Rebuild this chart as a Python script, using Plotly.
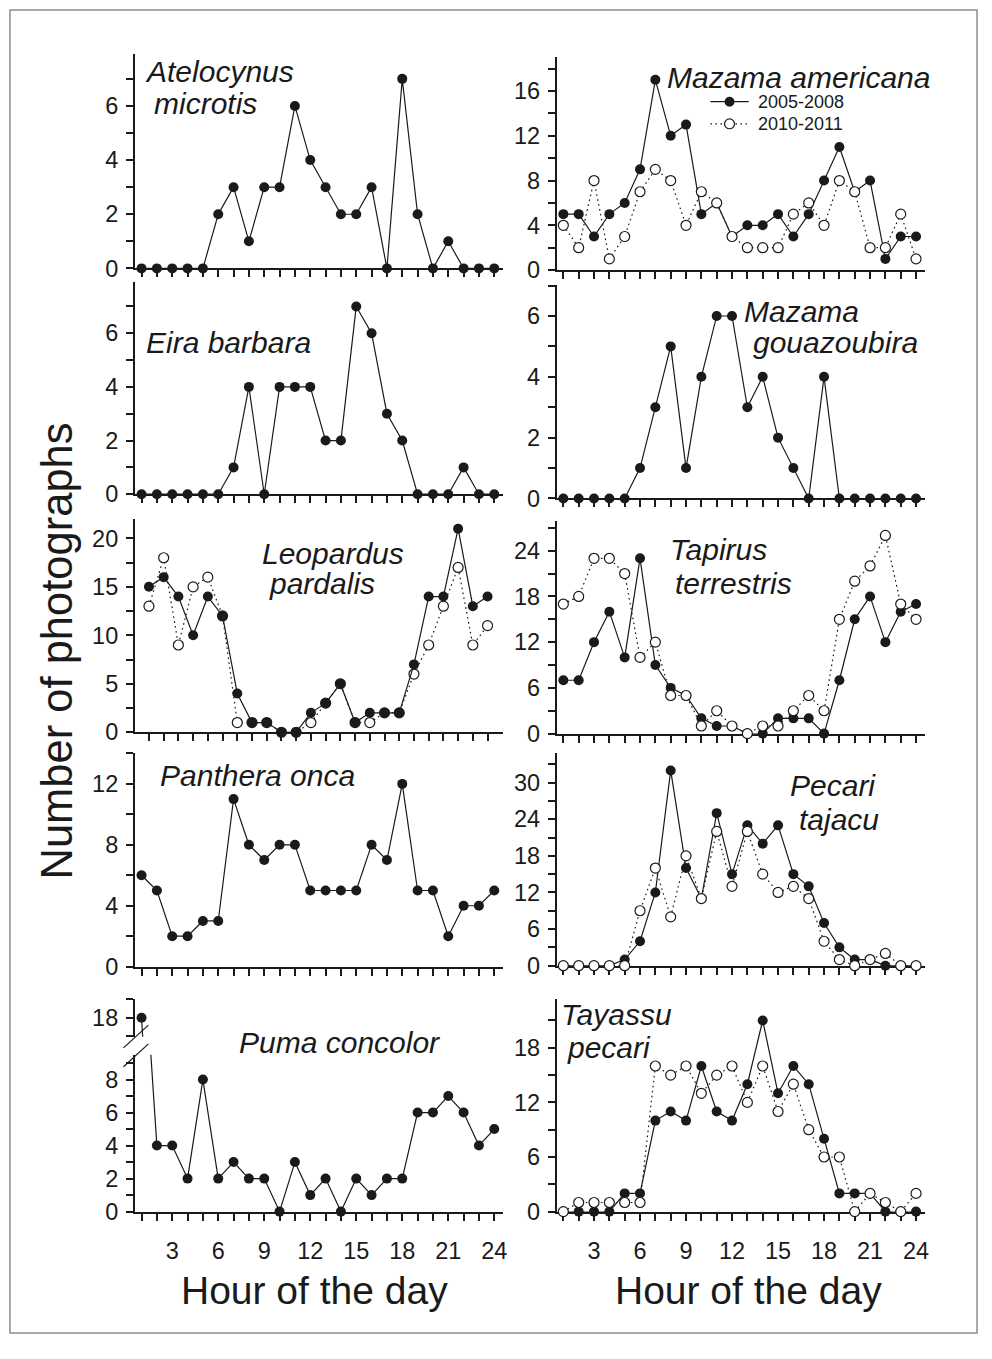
import plotly.graph_objects as go

W, H = 992, 1359


def px(x):
    return x / W


def py(y):
    return 1 - y / H


# ---------------- data (photographs per hour of the day) ----------------
hours = list(range(1, 25))
x_tick_vals = [3, 6, 9, 12, 15, 18, 21, 24]
x_tick_text = ["3", "6", "9", "12", "15", "18", "21", "24"]
series_names = ["2005-2008", "2010-2011"]

atelocynus = [0, 0, 0, 0, 0, 2, 3, 1, 3, 3, 6, 4, 3, 2, 2, 3, 0, 7, 2, 0, 1, 0, 0, 0]
eira = [0, 0, 0, 0, 0, 0, 1, 4, 0, 4, 4, 4, 2, 2, 7, 6, 3, 2, 0, 0, 0, 1, 0, 0]
leopardus_0508 = [15, 16, 14, 10, 14, 12, 4, 1, 1, 0, 0, 2, 3, 5, 1, 2, 2, 2, 7, 14, 14, 21, 13, 14]
leopardus_1011 = [13, 18, 9, 15, 16, 12, 1, 1, 1, 0, 0, 1, 3, 5, 1, 1, 2, 2, 6, 9, 13, 17, 9, 11]
panthera = [6, 5, 2, 2, 3, 3, 11, 8, 7, 8, 8, 5, 5, 5, 5, 8, 7, 12, 5, 5, 2, 4, 4, 5]
puma = [18, 4, 4, 2, 8, 2, 3, 2, 2, 0, 3, 1, 2, 0, 2, 1, 2, 2, 6, 6, 7, 6, 4, 5]
mazama_am_0508 = [5, 5, 3, 5, 6, 9, 17, 12, 13, 5, 6, 3, 4, 4, 5, 3, 5, 8, 11, 7, 8, 1, 3, 3]
mazama_am_1011 = [4, 2, 8, 1, 3, 7, 9, 8, 4, 7, 6, 3, 2, 2, 2, 5, 6, 4, 8, 7, 2, 2, 5, 1]
mazama_go = [0, 0, 0, 0, 0, 1, 3, 5, 1, 4, 6, 6, 3, 4, 2, 1, 0, 4, 0, 0, 0, 0, 0, 0]
tapirus_0508 = [7, 7, 12, 16, 10, 23, 9, 6, 5, 2, 1, 1, 0, 0, 2, 2, 2, 0, 7, 15, 18, 12, 16, 17]
tapirus_1011 = [17, 18, 23, 23, 21, 10, 12, 5, 5, 1, 3, 1, 0, 1, 1, 3, 5, 3, 15, 20, 22, 26, 17, 15]
pecari_0508 = [0, 0, 0, 0, 1, 4, 12, 32, 16, 11, 25, 15, 23, 20, 23, 15, 13, 7, 3, 1, 1, 0, 0, 0]
pecari_1011 = [0, 0, 0, 0, 0, 9, 16, 8, 18, 11, 22, 13, 22, 15, 12, 13, 11, 4, 1, 0, 1, 2, 0, 0]
tayassu_0508 = [0, 0, 0, 0, 2, 2, 10, 11, 10, 16, 11, 10, 14, 21, 13, 16, 14, 8, 2, 2, 2, 0, 0, 0]
tayassu_1011 = [0, 1, 1, 1, 1, 1, 16, 15, 16, 13, 15, 16, 12, 16, 11, 14, 9, 6, 6, 0, 2, 1, 0, 2]

# ---------------- styling ----------------
INK = "#1a1a1a"
FONT = "Liberation Sans, Arial, Helvetica, sans-serif"
TICK_FS = 23.5
NAME_FS = 30
MSIZE = 10
LW = 1.2
DOT = "1.6px,3.4px"

COLS = {0: (135.5, 505.5), 1: (559.0, 929.0)}
XR = [0.57, 24.6]

panels = [
    dict(k=1, col=0, top=55, bot=271, yr=[0, 7.9], dt=2, mn=1, a=atelocynus),
    dict(k=2, col=1, top=58, bot=272.7, yr=[0, 19], dt=4, mn=2, a=mazama_am_0508, b=mazama_am_1011),
    dict(k=3, col=0, top=285, bot=499, yr=[0, 7.9], dt=2, mn=1, a=eira),
    dict(k=4, col=1, top=287.7, bot=503.3, yr=[0, 7.02], dt=2, mn=1, a=mazama_go),
    dict(k=5, col=0, top=524, bot=739.3, yr=[0, 22], dt=5, mn=2.5, a=leopardus_0508, b=leopardus_1011,
         xr=[0.05, 25.08], open_on_top=False),
    dict(k=6, col=1, top=526, bot=740.7, yr=[0, 27.9], dt=6, mn=3, a=tapirus_0508, b=tapirus_1011),
    dict(k=7, col=0, top=760.7, bot=976, yr=[0, 14], dt=4, mn=2, a=panthera),
    dict(k=8, col=1, top=760, bot=975, yr=[0, 34.9], dt=6, mn=3, a=pecari_0508, b=pecari_1011),
    dict(k=9, col=0, top=1065, bot=1223.3, yr=[0, 9.5], dt=2, mn=1, a=puma, bottom=True, brk=True),
    dict(k=10, col=1, top=1008.3, bot=1223.3, yr=[0, 23.4], dt=6, mn=3, a=tayassu_0508, b=tayassu_1011,
         bottom=True),
]

fig = go.Figure()
layout = {}


def tick_common():
    return dict(
        showline=True, linewidth=2, linecolor=INK, mirror=False,
        ticks="outside", ticklen=7, tickwidth=2, tickcolor=INK,
        showgrid=False, zeroline=False, layer="below traces",
        tickfont=dict(family=FONT, size=TICK_FS, color=INK), fixedrange=True,
    )


def filled_trace(xs, ys, xa, ya, mode="lines+markers"):
    return go.Scatter(
        x=xs, y=ys, mode=mode, name=series_names[0], showlegend=False,
        line=dict(color=INK, width=LW),
        marker=dict(symbol="circle", size=MSIZE, color=INK, line=dict(width=0)),
        cliponaxis=False, xaxis=xa, yaxis=ya, hoverinfo="skip",
    )


def open_trace(xs, ys, xa, ya):
    return go.Scatter(
        x=xs, y=ys, mode="lines+markers", name=series_names[1], showlegend=False,
        line=dict(color=INK, width=LW, dash=DOT),
        marker=dict(symbol="circle", size=MSIZE, color="white", line=dict(color=INK, width=LW)),
        cliponaxis=False, xaxis=xa, yaxis=ya, hoverinfo="skip",
    )


for p in panels:
    k = p["k"]
    x0, x1 = COLS[p["col"]]
    xr = p.get("xr", XR)
    bottom = p.get("bottom", False)
    xa = tick_common()
    xa.update(
        domain=[px(x0), px(x1)], range=xr, anchor=f"y{k}",
        tickmode="array", tickvals=x_tick_vals,
        ticktext=x_tick_text if bottom else [""] * len(x_tick_vals),
        showticklabels=bottom, ticklabelstandoff=10,
        minor=dict(tickmode="array", tickvals=hours, ticks="outside", ticklen=7,
                   tickwidth=2, tickcolor=INK),
    )
    ya = tick_common()
    ya.update(
        domain=[py(p["bot"]), py(p["top"])], range=p["yr"], anchor=f"x{k}",
        tick0=0, dtick=p["dt"], ticklabelstandoff=3,
        minor=dict(tick0=0, dtick=p["mn"], ticks="outside", ticklen=7, tickwidth=2, tickcolor=INK),
    )
    layout[f"xaxis{k}"] = xa
    layout[f"yaxis{k}"] = ya

    xs_ref, ys_ref = f"x{k}", f"y{k}"
    if p.get("brk"):
        top_val = p["yr"][1]
        # lower part of the broken axis
        fig.add_trace(filled_trace(hours, p["a"], xs_ref, ys_ref, mode="lines"))
        fig.add_trace(filled_trace(hours, [v if v <= top_val else None for v in p["a"]],
                                   xs_ref, ys_ref, mode="markers"))
        # upper part of the broken axis
        ku = 11
        xu = dict(domain=[px(x0), px(x1)], range=xr, anchor=f"y{ku}", visible=False, fixedrange=True)
        yu = tick_common()
        yu.update(domain=[py(1046.7), py(1008.3)], range=[16.98, 19.02], anchor=f"x{ku}",
                  tick0=18, dtick=2, ticklabelstandoff=3,
                  minor=dict(tick0=17, dtick=1, ticks="outside", ticklen=7, tickwidth=2, tickcolor=INK))
        layout[f"xaxis{ku}"] = xu
        layout[f"yaxis{ku}"] = yu
        fig.add_trace(filled_trace(hours, p["a"], f"x{ku}", f"y{ku}", mode="lines"))
        fig.add_trace(filled_trace(hours, [v if v >= 16.98 else None for v in p["a"]],
                                   f"x{ku}", f"y{ku}", mode="markers"))
        continue

    if p.get("b") is None:
        fig.add_trace(filled_trace(hours, p["a"], xs_ref, ys_ref))
    elif p.get("open_on_top", True):
        fig.add_trace(filled_trace(hours, p["a"], xs_ref, ys_ref))
        fig.add_trace(open_trace(hours, p["b"], xs_ref, ys_ref))
    else:
        fig.add_trace(open_trace(hours, p["b"], xs_ref, ys_ref))
        fig.add_trace(filled_trace(hours, p["a"], xs_ref, ys_ref))

# ---------------- text ----------------
annotations = []


def name_label(text, xl, baseline, size=NAME_FS):
    annotations.append(dict(
        text=f"<i>{text}</i>", xref="paper", yref="paper",
        x=px(xl), y=py(baseline - 0.347 * size), xanchor="left", yanchor="middle",
        showarrow=False, font=dict(family=FONT, size=size, color=INK),
    ))


name_label("Atelocynus", 144, 82.7)
name_label("microtis", 153, 115)
name_label("Mazama americana", 668, 88.3)
name_label("Eira barbara", 145, 356.7)
name_label("Mazama", 745, 325)
name_label("gouazoubira", 754, 356.7)
name_label("Leopardus", 261, 569.3)
name_label("pardalis", 268, 600)
name_label("Tapirus", 671, 565)
name_label("terrestris", 676, 599.3)
name_label("Panthera onca", 159, 793.3)
name_label("Pecari", 791, 803.3)
name_label("tajacu", 800, 838)
name_label("Puma concolor", 238, 1063.3)
name_label("Tayassu", 561, 1035)
name_label("pecari", 567, 1068)

# axis titles
for cx in (316, 752):
    annotations.append(dict(
        text="Hour of the day", xref="paper", yref="paper", x=px(cx), y=py(1303),
        xanchor="center", yanchor="middle", showarrow=False,
        font=dict(family=FONT, size=39, color=INK),
    ))
annotations.append(dict(
    text="Number of photographs", xref="paper", yref="paper", x=px(57), y=py(657),
    xanchor="center", yanchor="middle", textangle=-90, showarrow=False,
    font=dict(family=FONT, size=43.5, color=INK),
))

# key for the two sampling periods (Mazama americana panel)
shapes = []
key_rows = [(102.7, series_names[0], False), (125.0, series_names[1], True)]
for ky, label, hollow in key_rows:
    shapes.append(dict(type="line", xref="paper", yref="paper",
                       x0=px(713.3), x1=px(751.7), y0=py(ky), y1=py(ky),
                       line=dict(color=INK, width=LW, dash=DOT if hollow else "solid")))
    r = MSIZE / 2
    shapes.append(dict(type="circle", xref="paper", yref="paper",
                       x0=px(732.5 - r), x1=px(732.5 + r), y0=py(ky + r), y1=py(ky - r),
                       fillcolor="white" if hollow else INK,
                       line=dict(color=INK, width=LW if hollow else 0)))
    annotations.append(dict(
        text=label, xref="paper", yref="paper", x=px(759), y=py(ky),
        xanchor="left", yanchor="middle", showarrow=False,
        font=dict(family=FONT, size=18, color=INK),
    ))

# axis-break marks on the Puma concolor y axis
for yl, yr_ in ((1058, 1035), (1077, 1054)):
    shapes.append(dict(type="line", xref="paper", yref="paper",
                       x0=px(124), x1=px(149), y0=py(yl), y1=py(yr_),
                       line=dict(color=INK, width=1.2)))

# outer frame
shapes.append(dict(type="rect", xref="paper", yref="paper",
                   x0=px(10), x1=px(981), y0=py(1346), y1=py(10),
                   line=dict(color="#8c8c8c", width=1.5), fillcolor="rgba(0,0,0,0)", layer="below"))

fig.update_layout(
    width=W, height=H, autosize=False,
    margin=dict(l=0, r=0, t=0, b=0, pad=0),
    paper_bgcolor="white", plot_bgcolor="white",
    showlegend=False,
    annotations=annotations, shapes=shapes,
    font=dict(family=FONT, color=INK),
    **layout,
)

fig.write_html("out.html")
